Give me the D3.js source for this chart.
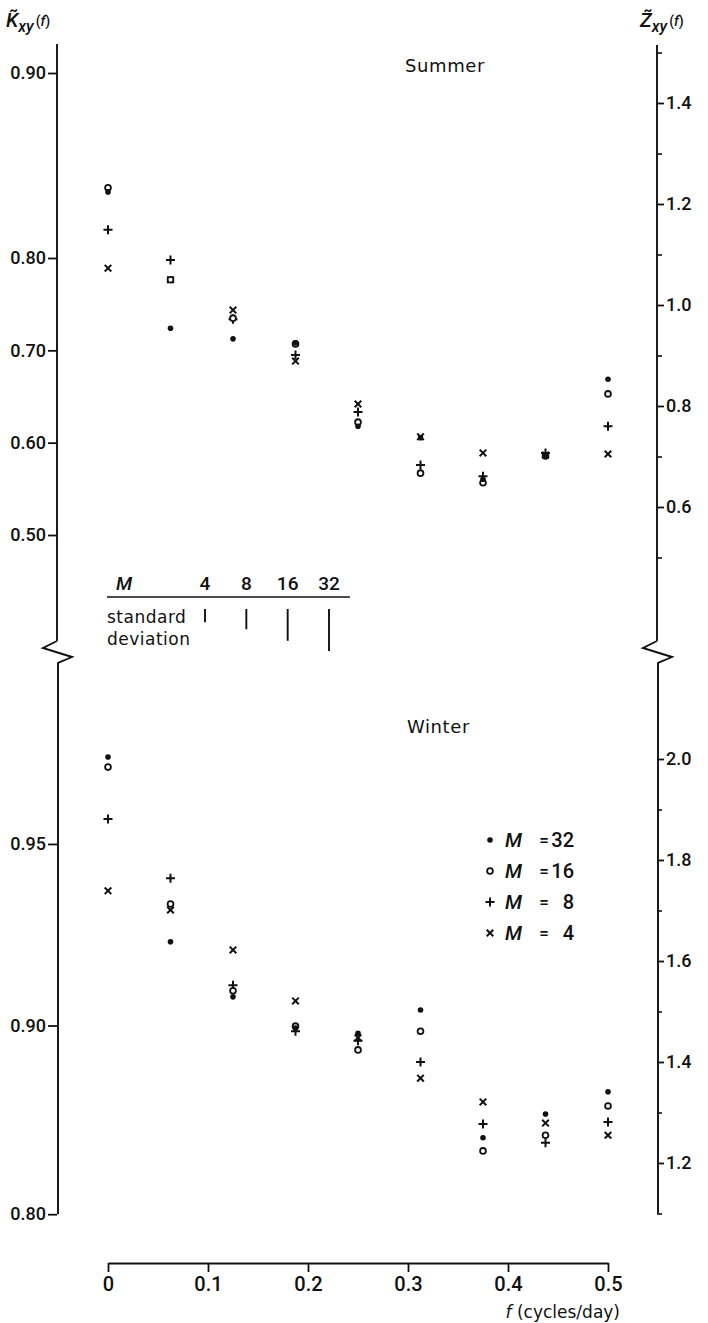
<!DOCTYPE html>
<html>
<head>
<meta charset="utf-8">
<script src="https://cdn.jsdelivr.net/npm/d3@7"></script>
<style>
  body { margin: 0; background: #fff; }
  svg { display: block; }
  .num { font-family: Roboto, "Liberation Sans Narrow", "DejaVu Sans Condensed", sans-serif; font-weight: 500; }
  .txt { font-family: "DejaVu Sans", sans-serif; }
</style>
</head>
<body>
<svg id="chart" width="708" height="1323"></svg>
<script>
// ── data ──────────────────────────────────────────────────
// frequency (cycles/day), values plotted on the Z~xy scale (right axes)
const freq = [0, 0.0625, 0.125, 0.1875, 0.25, 0.3125, 0.375, 0.4375, 0.5];

const summerM32 = [1.224, 0.954, 0.933, 0.925, 0.760, 0.737, 0.655, 0.701, 0.853];
const summerM16 = [1.232, 1.050, 0.974, 0.923, 0.768, 0.667, 0.648, 0.701, 0.824];
const summerM8  = [1.149, 1.089, 0.972, 0.901, 0.788, 0.683, 0.661, 0.707, 0.760];
const summerM4  = [1.073, 1.050, 0.990, 0.889, 0.804, 0.739, 0.707, 0.703, 0.705];

const winterM32 = [2.004, 1.638, 1.529, 1.467, 1.457, 1.503, 1.250, 1.297, 1.341];
const winterM16 = [1.984, 1.713, 1.541, 1.471, 1.424, 1.461, 1.224, 1.255, 1.313];
const winterM8  = [1.881, 1.764, 1.552, 1.461, 1.442, 1.400, 1.277, 1.240, 1.281];
const winterM4  = [1.739, 1.701, 1.622, 1.521, 1.448, 1.368, 1.321, 1.279, 1.255];

const windowM   = [32, 16, 8, 4];
const markerFor = ['dot', 'circle', 'plus', 'cross'];

// standard deviation bars (in Z units) for M = 4, 8, 16, 32
const stdM   = [4, 8, 16, 32];
const stdDev = [0.026, 0.040, 0.063, 0.083];

// tick values
const kTicksSummer = [0.5, 0.6, 0.7, 0.8, 0.9];
const kTicksWinter = [0.8, 0.9, 0.95];
const zMajorSummer = [0.6, 0.8, 1.0, 1.2, 1.4];
const zMinorSummer = [0.5, 0.7, 0.9, 1.1, 1.3, 1.5];
const zMajorWinter = [1.2, 1.4, 1.6, 1.8, 2.0];
const zMinorWinter = [1.1, 1.3, 1.5, 1.7, 1.9];
const fTicks = [0, 0.1, 0.2, 0.3, 0.4, 0.5];

// ── scales ────────────────────────────────────────────────
const svg = d3.select('#chart');
const xL = 57, xR = 657;            // left / right axis lines

const x  = d3.scaleLinear().domain([0, 0.5]).range([108, 608]);
const yS = d3.scaleLinear().domain([0.6, 1.4]).range([507, 103]);
const yW = d3.scaleLinear().domain([1.2, 2.0]).range([1163, 759]);

// left K~ axes: summer as printed (0.5–0.8 evenly spaced), winter follows K~ = tanh(Z~)
const kS = d3.scaleLinear().domain([0.5, 0.8, 0.9]).range([535, 258, 73]);
const kW = d3.scaleLinear().domain(kTicksWinter).range(kTicksWinter.map(k => yW(Math.atanh(k))));

const ink = '#111';

// ── axes ──────────────────────────────────────────────────
function leftAxis(scale, ticks) {
  const g = svg.append('g').attr('transform', `translate(${xL},0)`)
    .call(d3.axisLeft(scale).tickValues(ticks).tickSize(9).tickPadding(2).tickFormat(d3.format('.2f')));
  styleAxis(g, 18);
}
function rightAxis(scale, major, minor) {
  const g = svg.append('g').attr('transform', `translate(${xR},0)`)
    .call(d3.axisRight(scale).tickValues(major).tickSize(7).tickPadding(2).tickFormat(d3.format('.1f')));
  styleAxis(g, 18);
  svg.append('g').attr('transform', `translate(${xR},0)`)
    .call(d3.axisRight(scale).tickValues(minor).tickSize(5).tickFormat(''))
    .call(a => a.select('.domain').remove())
    .selectAll('line').attr('stroke', ink).attr('stroke-width', 1.6);
}
function styleAxis(g, fs) {
  g.select('.domain').remove();
  g.selectAll('line').attr('stroke', ink).attr('stroke-width', 1.8);
  g.selectAll('text').attr('class', 'num').attr('font-size', fs).attr('fill', ink);
}

leftAxis(kS, kTicksSummer);
leftAxis(kW, kTicksWinter);
rightAxis(yS, zMajorSummer, zMinorSummer);
rightAxis(yW, zMajorWinter, zMinorWinter);

// axis lines with break zigzags
const line = d3.line();
function axisLine(ax, top, bottom, breakAt, zig) {
  svg.append('path')
    .attr('d', line([[ax, top], [ax, breakAt]]))
    .attr('stroke', ink).attr('stroke-width', 1.9).attr('fill', 'none');
  svg.append('path')
    .attr('d', line([[ax, breakAt], [ax - zig[0], breakAt + 7], [ax + zig[1], breakAt + 16], [ax + 1, breakAt + 22], [ax + 1, bottom]]))
    .attr('stroke', ink).attr('stroke-width', 1.9).attr('fill', 'none');
}
axisLine(xL, 44, kW(0.8), 641, [14, 15]);
axisLine(xR, 45, yW(1.1), 641, [14, 15]);

// x axis
const gx = svg.append('g').attr('transform', 'translate(0,1263)')
  .call(d3.axisBottom(x).tickValues(fTicks).tickSize(9).tickSizeOuter(0).tickPadding(5)
    .tickFormat(d => d === 0 ? '0' : d3.format('.1f')(d)));
gx.select('.domain').attr('stroke', ink).attr('stroke-width', 1.9);
gx.selectAll('line').attr('stroke', ink).attr('stroke-width', 1.8);
gx.selectAll('text').attr('class', 'num').attr('font-size', 20).attr('fill', ink);

svg.append('text').attr('class', 'txt').attr('x', 620).attr('y', 1318)
  .attr('text-anchor', 'end').attr('font-size', 17).attr('fill', ink)
  .call(t => {
    t.append('tspan').attr('font-style', 'italic').text('f');
    t.append('tspan').text(' (cycles/day)');
  });

// axis titles
function axisTitle(xPos, letter) {
  const t = svg.append('text').attr('class', 'num').attr('x', xPos).attr('y', 27).attr('fill', ink);
  t.append('tspan').attr('font-size', 20).attr('font-style', 'italic').text(letter + '\u0303');
  t.append('tspan').attr('font-size', 16).attr('font-style', 'italic').attr('dy', 5).text('xy');
  t.append('tspan').attr('font-size', 14).attr('dy', -6).attr('dx', 2).text('(');
  t.append('tspan').attr('font-size', 14).attr('font-style', 'italic').text('f');
  t.append('tspan').attr('font-size', 14).text(')');
}
axisTitle(6, 'K');
axisTitle(640, 'Z');

// panel titles
svg.append('text').attr('class', 'txt').attr('x', 405).attr('y', 72)
  .attr('font-size', 18).attr('letter-spacing', 0.6).attr('fill', ink).text('Summer');
svg.append('text').attr('class', 'txt').attr('x', 407).attr('y', 733)
  .attr('font-size', 18).attr('letter-spacing', 0.6).attr('fill', ink).text('Winter');

// ── markers ───────────────────────────────────────────────
function marker(g, type, cx, cy) {
  if (type === 'dot') {
    g.append('circle').attr('cx', cx).attr('cy', cy).attr('r', 2.8).attr('fill', ink);
  } else if (type === 'circle') {
    g.append('circle').attr('cx', cx).attr('cy', cy).attr('r', 2.9)
      .attr('fill', '#fff').attr('stroke', ink).attr('stroke-width', 1.8);
  } else if (type === 'plus') {
    g.append('path').attr('d', `M${cx - 4.5},${cy}H${cx + 4.5}M${cx},${cy - 4.5}V${cy + 4.5}`)
      .attr('stroke', ink).attr('stroke-width', 2);
  } else {
    g.append('path').attr('d', `M${cx - 3.3},${cy - 3.3}L${cx + 3.3},${cy + 3.3}M${cx - 3.3},${cy + 3.3}L${cx + 3.3},${cy - 3.3}`)
      .attr('stroke', ink).attr('stroke-width', 2);
  }
}

function drawSeries(values, yScale, type) {
  const g = svg.append('g');
  values.forEach((v, i) => marker(g, type, x(freq[i]), yScale(v)));
}

// draw order: x, +, o, • so the filled dots sit on top
[[summerM4, 'cross'], [summerM8, 'plus'], [summerM16, 'circle'], [summerM32, 'dot']]
  .forEach(([vals, t]) => drawSeries(vals, yS, t));
[[winterM4, 'cross'], [winterM8, 'plus'], [winterM16, 'circle'], [winterM32, 'dot']]
  .forEach(([vals, t]) => drawSeries(vals, yW, t));

// ── standard deviation table ──────────────────────────────
const colX = d3.scalePoint().domain(stdM).range([205, 329]);
const tab = svg.append('g');
tab.append('text').attr('class', 'num').attr('x', 116).attr('y', 590)
  .attr('font-size', 19).attr('font-style', 'italic').attr('fill', ink).text('M');
tab.selectAll('.mlab').data(stdM).enter().append('text')
  .attr('class', 'num').attr('x', d => colX(d)).attr('y', 590)
  .attr('text-anchor', 'middle').attr('font-size', 19).attr('fill', ink).text(d => d);
tab.append('line').attr('x1', 107).attr('x2', 350).attr('y1', 597).attr('y2', 597)
  .attr('stroke', ink).attr('stroke-width', 1.6);
tab.append('text').attr('class', 'txt').attr('x', 107).attr('y', 623)
  .attr('font-size', 17).attr('letter-spacing', 0.5).attr('fill', ink).text('standard');
tab.append('text').attr('class', 'txt').attr('x', 107).attr('y', 645)
  .attr('font-size', 17).attr('letter-spacing', 0.5).attr('fill', ink).text('deviation');
const sdLen = d => yS(1) - yS(1 + d);
tab.selectAll('.sd').data(stdM).enter().append('line')
  .attr('x1', d => colX(d)).attr('x2', d => colX(d))
  .attr('y1', 609).attr('y2', (d, i) => 609 + sdLen(stdDev[i]))
  .attr('stroke', ink).attr('stroke-width', 1.9);

// ── legend (winter panel) ─────────────────────────────────
const leg = svg.append('g');
windowM.forEach((m, i) => {
  const cy = 840 + i * 31;
  marker(leg, markerFor[i], 490, cy);
  leg.append('text').attr('class', 'num').attr('x', 505).attr('y', cy + 7)
    .attr('font-size', 20).attr('font-style', 'italic').attr('fill', ink).text('M');
  leg.append('text').attr('class', 'num').attr('x', 544).attr('y', cy + 6)
    .attr('text-anchor', 'middle').attr('font-size', 17).attr('fill', ink).text('=');
  leg.append('text').attr('class', 'num').attr('x', 574).attr('y', cy + 7)
    .attr('text-anchor', 'end').attr('font-size', 20).attr('fill', ink).text(m);
});
</script>
</body>
</html>
